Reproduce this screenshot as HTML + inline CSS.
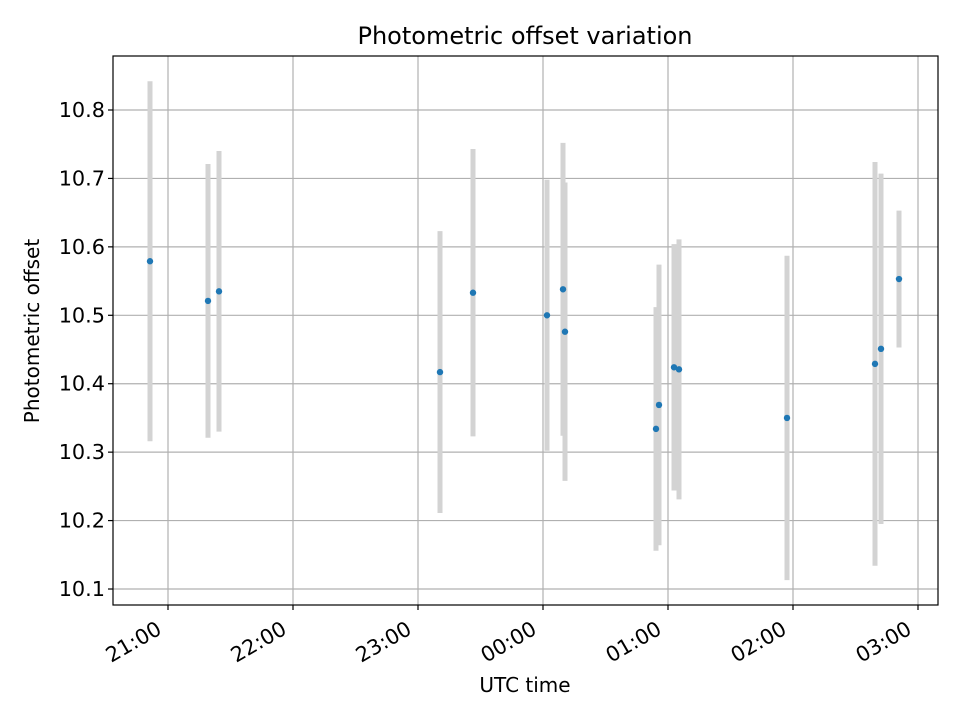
<!DOCTYPE html>
<html><head><meta charset="utf-8"><style>
html,body{margin:0;padding:0;background:#fff;}
svg{display:block;font-family:"DejaVu Sans","Liberation Sans",sans-serif;}
</style></head><body>
<svg id="chart" width="960" height="720" viewBox="0 0 960 720" xmlns="http://www.w3.org/2000/svg">
<rect width="960" height="720" fill="#fff"/>
<g id="grid"></g>
<g id="bars"></g>
<g id="pts"></g>
<rect x="113" y="56" width="825" height="549" fill="none" stroke="#000" stroke-width="1.2"/>
<g id="ticks"></g>
<text x="525" y="44" font-size="24" text-anchor="middle">Photometric offset variation</text>
<text x="525" y="692" font-size="20" text-anchor="middle">UTC time</text>
<text transform="translate(39,331) rotate(-90)" font-size="20" text-anchor="middle">Photometric offset</text>
</svg>
<script>
// hours after 21:00 UTC
const times = [-0.144,0.32,0.408,2.176,2.44,3.032,3.16,3.176,3.904,3.928,4.048,4.088,4.952,5.656,5.704,5.848];
const values = [10.579,10.521,10.535,10.417,10.533,10.500,10.538,10.476,10.334,10.369,10.424,10.421,10.350,10.429,10.451,10.553];
const errors = [0.263,0.2,0.205,0.206,0.21,0.198,0.214,0.218,0.178,0.205,0.18,0.19,0.237,0.295,0.256,0.1];
const yTicks = [10.1,10.2,10.3,10.4,10.5,10.6,10.7,10.8];
const xTicks = [0,1,2,3,4,5,6];
const xTickLabels = ["21:00","22:00","23:00","00:00","01:00","02:00","03:00"];

const NS="http://www.w3.org/2000/svg";
const X0=113,X1=938,Y0=56,Y1=605;
const xs=h=>168+h*125;
const ys=v=>110+(10.8-v)*684.3;
function mk(tag,attrs,parent){const e=document.createElementNS(NS,tag);for(const k in attrs)e.setAttribute(k,attrs[k]);document.getElementById(parent).appendChild(e);return e;}

yTicks.forEach((t,i)=>{
  const y=ys(t);
  const g=mk('line',{x1:X0,x2:X1,y1:y,y2:y,stroke:'#b0b0b0','stroke-width':1.2},'grid');
  
  
  const tk=mk('line',{x1:X0-5,x2:X0,y1:y,y2:y,stroke:'#000','stroke-width':1.2},'ticks');
  
  
  const tx=mk('text',{x:X0-8,y:y+7,'font-size':20.8,'text-anchor':'end'},'ticks');
  
  
  tx.textContent=t.toFixed(1);
});
xTicks.forEach((t,i)=>{
  const x=xs(t);
  const g=mk('line',{x1:x,x2:x,y1:Y0,y2:Y1,stroke:'#b0b0b0','stroke-width':1.2},'grid');
  
  
  const tk=mk('line',{x1:x,x2:x,y1:Y1,y2:Y1+5,stroke:'#000','stroke-width':1.2},'ticks');
  
  
  const tx=mk('text',{x:0,y:0,'font-size':20.8,'text-anchor':'end',transform:`translate(${x-5},${Y1+28}) rotate(-30)`},'ticks');
  
  
  tx.textContent=xTickLabels[i];
});
times.forEach((t,i)=>{
  const x=xs(t);
  const b=mk('line',{x1:x,x2:x,y1:ys(values[i]+errors[i]),y2:ys(values[i]-errors[i]),stroke:'#d3d3d3','stroke-width':5},'bars');
  
  
});
times.forEach((t,i)=>{
  const c=mk('circle',{cx:xs(t),cy:ys(values[i]),r:3.2,fill:'#1f77b4'},'pts');
  
  
});
</script>
</body></html>
